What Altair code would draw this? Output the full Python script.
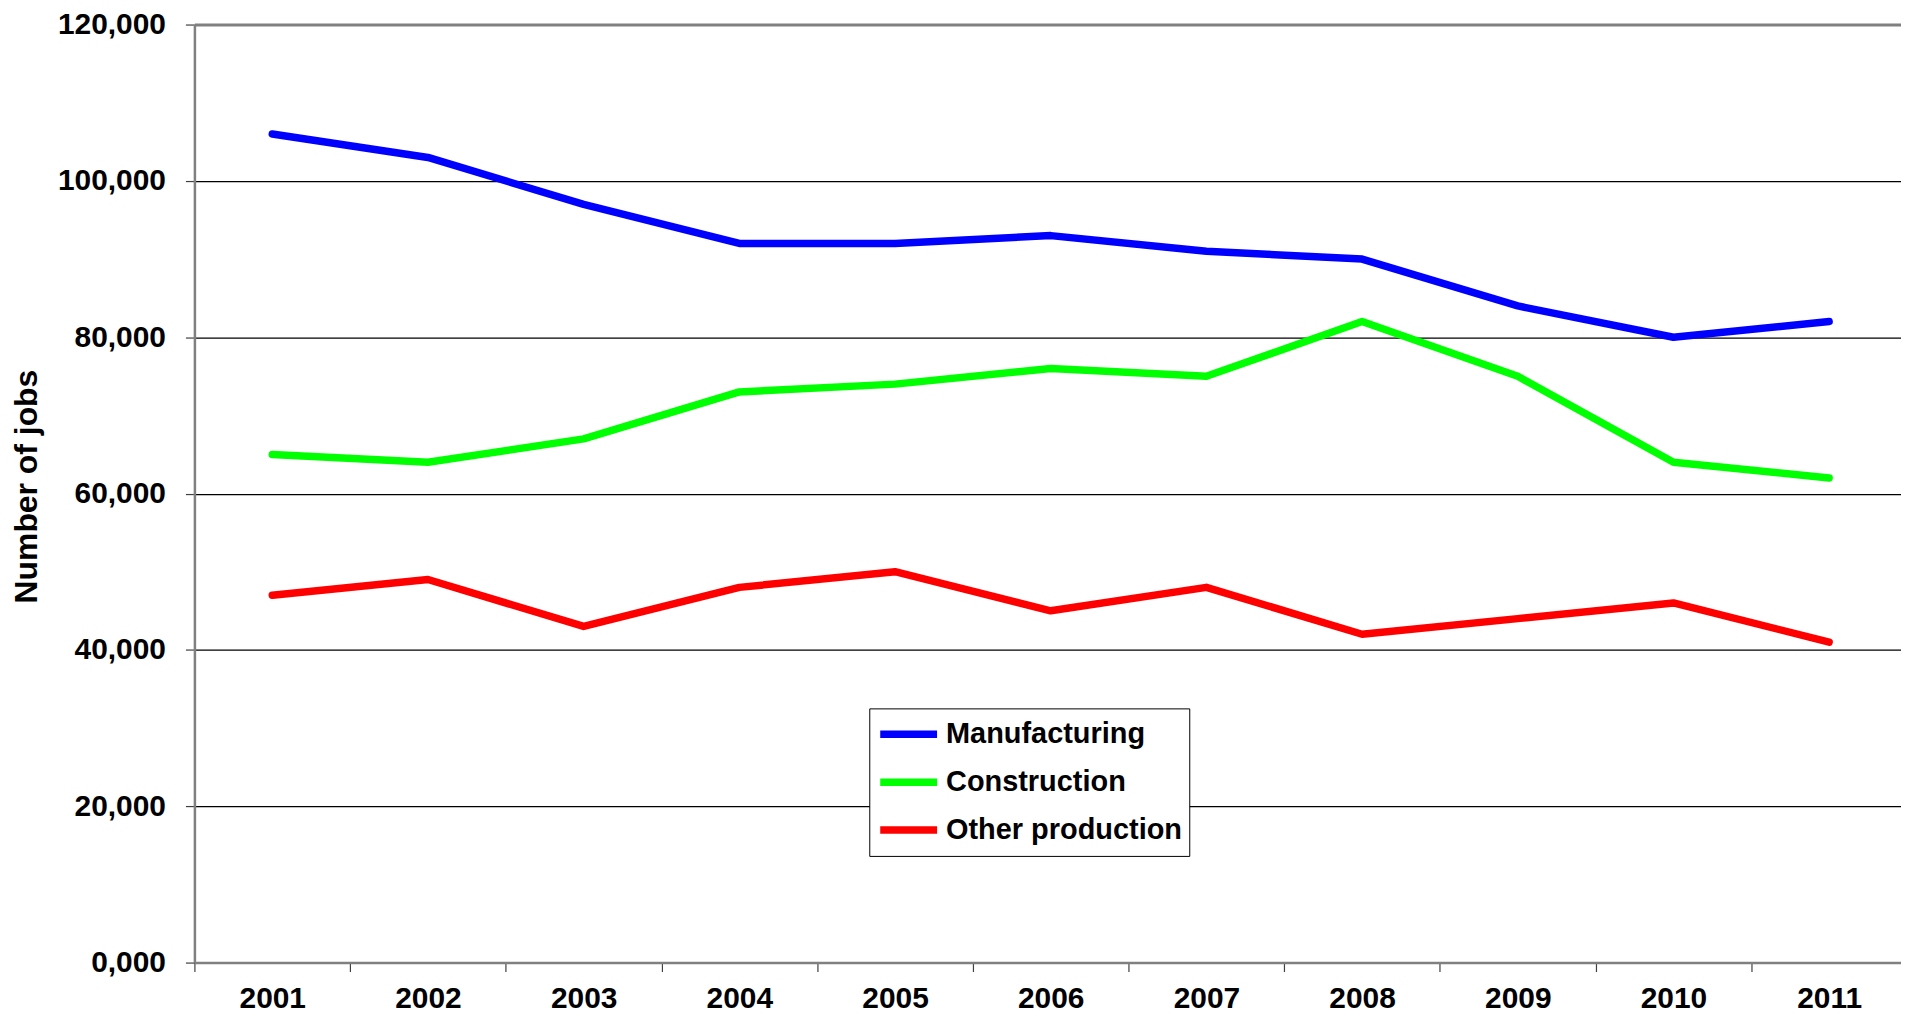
import altair as alt
import pandas as pd

years = ["2001", "2002", "2003", "2004", "2005", "2006", "2007", "2008", "2009", "2010", "2011"]
manufacturing = [106000, 103000, 97000, 92000, 92000, 93000, 91000, 90000, 84000, 80000, 82000]
construction = [65000, 64000, 67000, 73000, 74000, 76000, 75000, 82000, 75000, 64000, 62000]
other_production = [47000, 49000, 43000, 48000, 50000, 45000, 48000, 42000, 44000, 46000, 41000]

series_names = ["Manufacturing", "Construction", "Other production"]
series_colors = ["#0000FF", "#00FF00", "#FF0000"]
y_ticks = [0, 20000, 40000, 60000, 80000, 100000, 120000]

rows = []
for name, vals in zip(series_names, [manufacturing, construction, other_production]):
    for yr, v in zip(years, vals):
        rows.append({"year": yr, "series": name, "jobs": v})
df = pd.DataFrame(rows)

FONT = "Arial, Liberation Sans, sans-serif"

chart = alt.Chart(df).mark_line(strokeWidth=7.5, strokeCap="round", strokeJoin="round").encode(
    x=alt.X(
        "year:N",
        sort=years,
        scale=alt.Scale(type="band", paddingInner=0, paddingOuter=0, range=[0, 1718]),
        axis=alt.Axis(
            title=None,
            tickBand="extent",
            labelAngle=0,
            labelFont=FONT,
            labelFontSize=30,
            labelFontWeight="bold",
            labelColor="black",
            labelPadding=12,
            tickSize=9,
            tickColor="#404040",
            tickWidth=1.2,
            domainColor="#808080",
            domainWidth=2.5,
            grid=False,
        ),
    ),
    y=alt.Y(
        "jobs:Q",
        scale=alt.Scale(domain=[0, 120000], nice=False),
        axis=alt.Axis(
            title="Number of jobs",
            values=y_ticks,
            labelExpr="datum.value == 0 ? '0,000' : format(datum.value, ',')",
            labelFont=FONT,
            labelFontSize=30,
            labelFontWeight="bold",
            labelColor="black",
            labelPadding=20,
            tickSize=9,
            tickColor="#404040",
            tickWidth=1.2,
            domainColor="#808080",
            domainWidth=2.5,
            grid=True,
            gridColor=alt.condition("datum.value == 120000", alt.value("#808080"), alt.value("#000000")),
            gridWidth=alt.condition("datum.value == 120000", alt.value(3), alt.value(1.2)),
            titleFont=FONT,
            titleFontSize=32,
            titleFontWeight="bold",
            titleColor="black",
            titleAngle=-90,
            titleAlign="center",
            titleBaseline="middle",
            titleX=-168,
            titleY=463,
        ),
    ),
    color=alt.Color(
        "series:N",
        sort=series_names,
        scale=alt.Scale(domain=series_names, range=series_colors),
        legend=alt.Legend(
            title=None,
            orient="none",
            legendX=677,
            legendY=686,
            symbolType="stroke",
            symbolSize=3249,
            symbolStrokeWidth=7.5,
            labelFont=FONT,
            labelFontSize=29,
            labelFontWeight="bold",
            labelColor="black",
            labelOffset=5,
            clipHeight=38,
            rowPadding=10,
            padding=7,
            strokeColor="black",
            fillColor="white",
            labelLimit=400,
        ),
    ),
).properties(
    width=1712,
    height=941,
    autosize=alt.AutoSizeParams(type="none"),
    padding={"left": 187, "top": 15, "right": 0, "bottom": 52},
).configure_view(stroke=None)

chart.save("out.html", embed_options={"renderer": "svg", "actions": False})
